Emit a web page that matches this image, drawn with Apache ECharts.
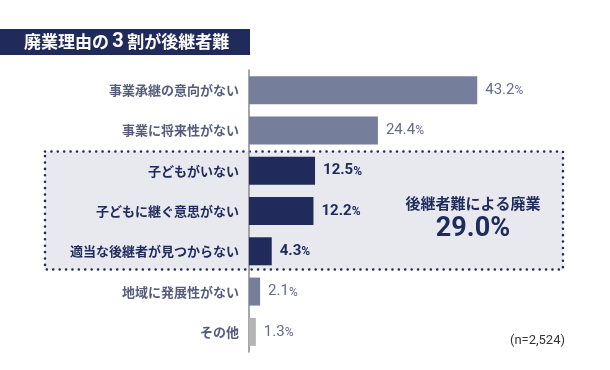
<!DOCTYPE html>
<html><head><meta charset="utf-8">
<script src="https://cdn.jsdelivr.net/npm/echarts@6/dist/echarts.min.js"></script>
<style>html,body{margin:0;padding:0;background:#fff}#c{width:610px;height:370px}</style>
</head><body><div id="c"></div>
<script>
const categories = ['事業承継の意向がない','事業に将来性がない','子どもがいない','子どもに継ぐ意思がない','適当な後継者が見つからない','地域に発展性がない','その他'];
const values = [43.2, 24.4, 12.5, 12.2, 4.3, 2.1, 1.3];
const highlighted = [false, false, true, true, true, false, false];
const barColors = ['#757f9c','#757f9c','#202b5b','#202b5b','#202b5b','#757f9c','#b4b4b4'];
const titleText = '廃業理由の';
const titleNum = '3';
const titleRest = '割が後継者難';
const groupLabel = '後継者難による廃業';
const groupValue = '29.0%';
const sampleNote = '(n=2,524)';

const NAVY = '#202b5b';
const SLATE = '#555d7c';
const FONT = '"Noto Sans CJK JP", "Noto Sans", sans-serif';
const NUMFONT = 'Roboto, "Noto Sans", sans-serif';

const chart = echarts.init(document.getElementById('c'));
const option = {
  animation: false,
  backgroundColor: '#fff',
  grid: { left: 249, right: 44, top: 70, bottom: 18, containLabel: false },
  xAxis: { type: 'value', min: 0, max: 60, show: false },
  yAxis: {
    type: 'category', data: categories, inverse: true,
    axisLine: { show: true, lineStyle: { color: '#8a8a8a', width: 1.5 } },
    axisTick: { show: false },
    axisLabel: {
      margin: 10, fontFamily: FONT, fontSize: 13, fontWeight: 'bold',
      formatter: (v, i) => highlighted[i] ? '{h|' + v + '}' : '{n|' + v + '}',
      rich: {
        h: { color: NAVY, fontFamily: FONT, fontSize: 13, fontWeight: 'bold' },
        n: { color: SLATE, fontFamily: FONT, fontSize: 13, fontWeight: 'bold' }
      }
    }
  },
  series: [{
    type: 'bar', barWidth: 28, z: 3,
    data: values.map((v, i) => ({ value: v, itemStyle: { color: barColors[i] } })),
    label: {
      show: true, position: 'right', distance: 8,
      formatter: p => {
        const h = highlighted[p.dataIndex];
        const s = p.value.toFixed(1);
        return h ? '{hn|' + s + '}{hp|%}' : '{nn|' + s + '}{np|%}';
      },
      rich: {
        hn: { color: NAVY, fontFamily: NUMFONT, fontSize: 15, fontWeight: 'bold' },
        hp: { color: NAVY, fontFamily: NUMFONT, fontSize: 12, fontWeight: 'bold', padding: [2,0,0,0] },
        nn: { color: '#646c8c', fontFamily: NUMFONT, fontSize: 15 },
        np: { color: '#646c8c', fontFamily: NUMFONT, fontSize: 12, padding: [2,0,0,0] }
      }
    }
  }]
};
chart.setOption(option);

// group box around highlighted categories
const hi = highlighted.map((h, i) => h ? i : -1).filter(i => i >= 0);
const yFirst = chart.convertToPixel({ yAxisIndex: 0 }, categories[hi[0]]);
const yLast = chart.convertToPixel({ yAxisIndex: 0 }, categories[hi[hi.length - 1]]);
const band = chart.convertToPixel({ yAxisIndex: 0 }, categories[1]) - chart.convertToPixel({ yAxisIndex: 0 }, categories[0]);
const boxTop = yFirst - band / 2 + 1;
const boxBot = yLast + band / 2 - 2;

chart.setOption({
  graphic: [
    { type: 'rect', z: 0, shape: { x: 0, y: 29, width: 250, height: 26 }, style: { fill: NAVY } },
    { type: 'text', z: 1, x: 24, y: 42, style: {
        text: '{a|' + titleText + '} {b|' + titleNum + '} {a|' + titleRest + '}',
        verticalAlign: 'middle',
        rich: {
          a: { fill: '#fff', fontFamily: FONT, fontSize: 17, fontWeight: 'bold' },
          b: { fill: '#fff', fontFamily: NUMFONT, fontSize: 20, fontWeight: 'bold' }
        }
    } },
    { type: 'rect', z: 0, shape: { x: 45, y: boxTop, width: 518, height: boxBot - boxTop },
      style: { fill: '#e8e9ef', stroke: NAVY, lineWidth: 2.6, lineDash: [0, 6.4], lineCap: 'round' } },
    { type: 'text', z: 1, x: 473, y: 203, style: {
        text: groupLabel, fill: NAVY, fontFamily: FONT, fontSize: 15, fontWeight: 'bold',
        align: 'center', verticalAlign: 'middle' } },
    { type: 'text', z: 1, x: 473, y: 229, style: {
        text: groupValue, fill: NAVY, fontFamily: NUMFONT, fontSize: 27, fontWeight: 'bold',
        align: 'center', verticalAlign: 'middle' } },
    { type: 'text', z: 1, x: 565, y: 341, style: {
        text: sampleNote, fill: '#333', fontFamily: NUMFONT, fontSize: 13,
        align: 'right', verticalAlign: 'middle' } }
  ]
});
</script></body></html>
